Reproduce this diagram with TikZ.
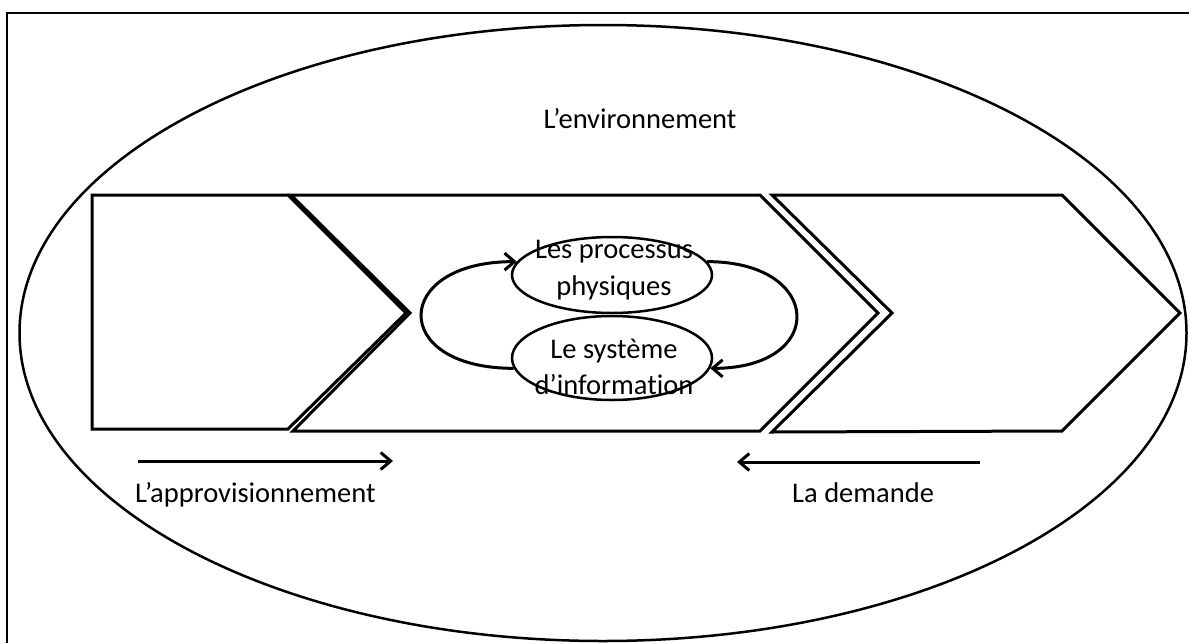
\documentclass[tikz,border=0pt]{standalone}
\usepackage{fontspec}
\setmainfont{Carlito}[Ligatures=NoCommon]
\usetikzlibrary{arrows.meta,shapes.geometric}
\begin{document}
\begin{tikzpicture}[x=1pt,y=-1pt,
  frame/.style={line width=1.5pt},
  env/.style={draw, ellipse, line width=2.5pt, minimum width=1167pt, minimum height=616pt, inner sep=0pt},
  block/.style={draw, line width=3pt, line join=miter},
  oval/.style={draw, ellipse, line width=2.5pt, inner sep=0pt, minimum width=200pt},
  lbl/.style={font=\fontsize{28.5}{36.5}\selectfont, align=center, inner sep=0pt},
  arr/.style={line width=3pt, -{Straight Barb[length=10pt,width=17pt]}}]
\useasboundingbox (0,0) rectangle (1189,643);
\fill[white] (0,0) rectangle (1189,643);
\draw[frame] (7,643) -- (7,13) -- (1189,13);
\node[env] (envi) at (603,333) {};
% chevrons
\draw[block] (92,195) -- (288,195) -- (406,313) -- (288,429) -- (92,429) -- cycle;
\draw[block] (291,195) -- (760,195) -- (878,313) -- (760,431) -- (293,431) -- (410,313) -- cycle;
\draw[block] (772,195) -- (1062,195) -- (1180,313) -- (1062,431) -- (772,432) -- (892,313) -- cycle;
% inner ellipses
\node[oval, minimum height=76pt] (proc) at (612,275) {};
\node[oval, minimum height=84pt] (info) at (612,358) {};
\node[lbl] (proctxt) at (614,270) {Les processus\\physiques};
\node[lbl] (infotxt) at (614,367) {Le système\\d’information};
\draw[arr] (info.186) .. controls +(-125,0) and +(-125,0) .. (proc.172);
\draw[arr] (proc.8) .. controls +(117,0) and +(117,0) .. (info.354);
% texts
\node[lbl, anchor=base] (envtxt) at (640,128) {L’environnement};
\node[lbl, anchor=base west] (appro) at (135,502) {L’approvisionnement};
\node[lbl, anchor=base west] (dem) at (792,502) {La demande};
% flow arrows
\coordinate (a1s) at (138,461);
\coordinate (a1e) at (393,461);
\coordinate (a2s) at (980,462);
\coordinate (a2e) at (737,462);
\draw[arr] (a1s) -- (a1e);
\draw[arr] (a2s) -- (a2e);
\end{tikzpicture}
\end{document}
